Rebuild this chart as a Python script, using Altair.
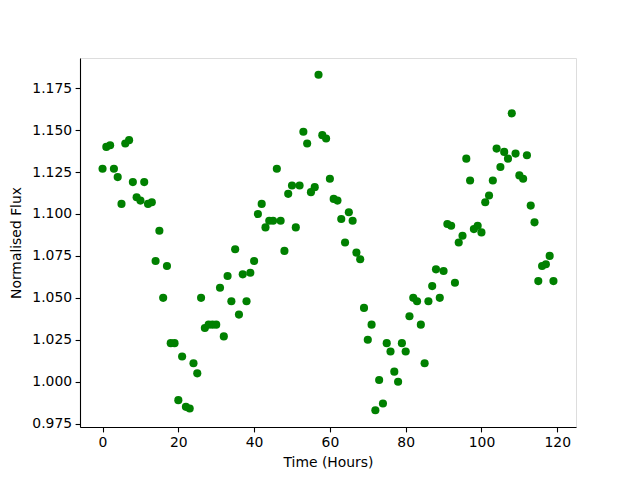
import altair as alt
import pandas as pd

hours = list(range(120))
flux = [
    1.127, 1.140, 1.141, 1.127, 1.122, 1.106, 1.142, 1.144, 1.119, 1.110,
    1.108, 1.119, 1.106, 1.107, 1.072, 1.090, 1.050, 1.069, 1.023, 1.023,
    0.989, 1.015, 0.985, 0.984, 1.011, 1.005, 1.050, 1.032, 1.034, 1.034,
    1.034, 1.056, 1.027, 1.063, 1.048, 1.079, 1.040, 1.064, 1.048, 1.065,
    1.072, 1.100, 1.106, 1.092, 1.096, 1.096, 1.127, 1.096, 1.078, 1.112,
    1.117, 1.092, 1.117, 1.149, 1.142, 1.113, 1.116, 1.183, 1.147, 1.145,
    1.121, 1.109, 1.108, 1.097, 1.083, 1.101, 1.096, 1.077, 1.073, 1.044,
    1.025, 1.034, 0.983, 1.001, 0.987, 1.023, 1.018, 1.006, 1.000, 1.023,
    1.018, 1.039, 1.050, 1.048, 1.034, 1.011, 1.048, 1.057, 1.067, 1.050,
    1.066, 1.094, 1.093, 1.059, 1.083, 1.087, 1.133, 1.120, 1.091, 1.093,
    1.089, 1.107, 1.111, 1.120, 1.139, 1.128, 1.137, 1.133, 1.160, 1.136,
    1.123, 1.121, 1.135, 1.105, 1.095, 1.060, 1.069, 1.070, 1.075, 1.060,
]
x_ticks = [0, 20, 40, 60, 80, 100, 120]
y_ticks = [0.975, 1.000, 1.025, 1.050, 1.075, 1.100, 1.125, 1.150, 1.175]

df = pd.DataFrame({"hours": hours, "flux": flux})

axis_common = dict(
    grid=False,
    labelFont="DejaVu Sans",
    labelFontSize=13.9,
    labelColor="black",
    titleFont="DejaVu Sans",
    titleFontSize=13.9,
    titleFontWeight="normal",
    titleColor="black",
    tickColor="black",
    tickSize=4.9,
    tickWidth=1.1,
    domainColor="black",
    domainWidth=1.1,
    labelPadding=3.5,
)

chart = alt.Chart(df).mark_point(
    filled=True, size=66, color="#008000", opacity=1, shape="circle"
).encode(
    x=alt.X(
        "hours:Q",
        scale=alt.Scale(domain=[-5.95, 124.95], nice=False, zero=False),
        axis=alt.Axis(title="Time (Hours)", values=x_ticks, format="d",
                      titlePadding=6, **axis_common),
    ),
    y=alt.Y(
        "flux:Q",
        scale=alt.Scale(domain=[0.973, 1.193], nice=False, zero=False),
        axis=alt.Axis(title="Normalised Flux", values=y_ticks, format=".3f",
                      titlePadding=8, **axis_common),
    ),
).properties(
    width=496,
    height=369,
    autosize=alt.AutoSizeParams(type="none"),
    padding={"left": 72, "top": 50, "right": 56, "bottom": 45},
).configure_view(
    stroke="black", strokeWidth=1.1
).configure(background="white")

chart.save("out.html", embed_options={"renderer": "svg", "actions": False})
